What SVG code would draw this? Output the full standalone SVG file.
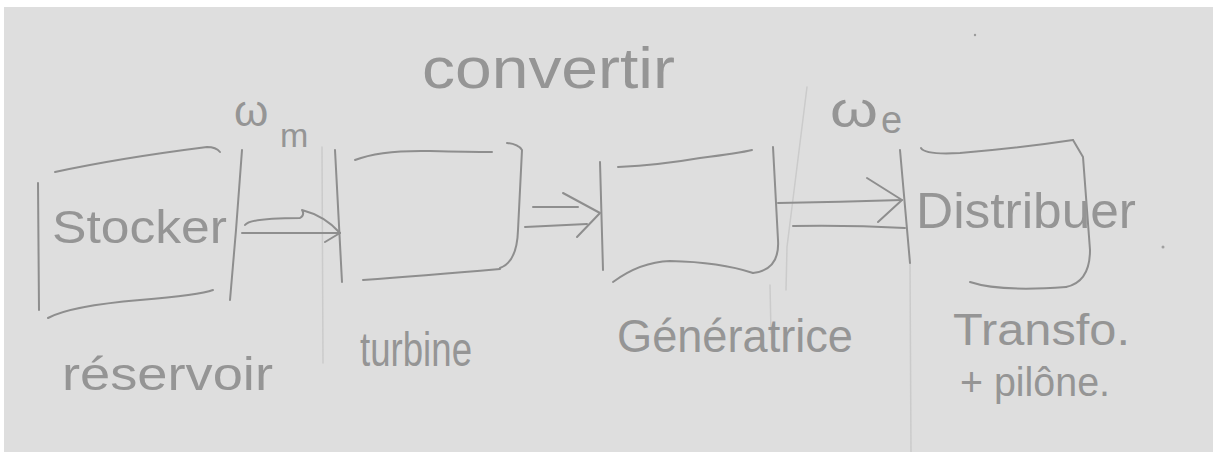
<svg xmlns="http://www.w3.org/2000/svg" width="1213" height="452" viewBox="0 0 1213 452">
<defs>
<style>
.bg{fill:#dedede}
.ln{fill:none;stroke:#8e8e8e;stroke-width:2;stroke-linecap:round;stroke-linejoin:round}
.fa{fill:none;stroke:#cbcbcb;stroke-width:1.5;stroke-linecap:round}
.tx{fill:#959595;font-family:"Liberation Sans","DejaVu Sans",sans-serif}
</style>
</defs>
<rect x="0" y="0" width="1213" height="452" fill="#ffffff"/>
<rect class="bg" x="4" y="7" width="1209" height="445"/>
<g id="faint-lines">
<path class="fa" d="M322 147 L323 363"/>
<path class="fa" d="M807 87 L787 247 L786 290"/>
<path class="fa" d="M910 263 L911 452"/>
<circle cx="975" cy="35" r="1.2" fill="#9a9a9a"/>
<circle cx="1163" cy="247" r="1.5" fill="#a0a0a0"/>
</g>
<g id="title">
<text class="tx" x="422" y="88" font-size="58" textLength="253" lengthAdjust="spacingAndGlyphs">convertir</text>
</g>
<g id="node-stocker">
<path class="ln" d="M38 183 L39 310"/>
<path class="ln" d="M55 172 Q120 158 207 147 Q216 147 220 152"/>
<path class="ln" d="M48 318 Q70 306 140 300 Q200 295 213 290"/>
<path class="ln" d="M242 150 L236 230 L230 300"/>
<text class="tx" x="52" y="243" font-size="46" textLength="175" lengthAdjust="spacingAndGlyphs">Stocker</text>
<text class="tx" x="62" y="390" font-size="46" textLength="211" lengthAdjust="spacingAndGlyphs">réservoir</text>
</g>
<g id="node-turbine">
<path class="ln" d="M335 150 L342 282"/>
<path class="ln" d="M355 160 Q380 150 430 151 Q470 152 492 152"/>
<path class="ln" d="M507 143 Q518 144 522 150 L518 230 Q517 262 500 268"/>
<path class="ln" d="M363 280 Q420 276 500 269"/>
<text class="tx" x="360" y="366" font-size="48" textLength="112" lengthAdjust="spacingAndGlyphs">turbine</text>
</g>
<g id="node-generatrice">
<path class="ln" d="M600 162 L603 270"/>
<path class="ln" d="M618 167 Q660 165 700 158 Q740 153 752 150"/>
<path class="ln" d="M773 147 L778 240 Q780 270 753 273"/>
<path class="ln" d="M613 282 Q640 262 670 261 Q720 262 753 273"/>
<path class="fa" d="M770 285 L771 333"/>
<text class="tx" x="617" y="352" font-size="46" textLength="236" lengthAdjust="spacingAndGlyphs">Génératrice</text>
</g>
<g id="node-distribuer">
<path class="ln" d="M900 150 L910 263"/>
<path class="ln" d="M921 148 Q925 155 960 153 Q1020 148 1073 140"/>
<path class="ln" d="M1073 140 L1083 157 L1090 250 Q1090 282 1066 287"/>
<path class="ln" d="M970 282 Q1000 292 1066 287"/>
<text class="tx" x="916" y="228" font-size="50" textLength="220" lengthAdjust="spacingAndGlyphs">Distribuer</text>
<text class="tx" x="953" y="345" font-size="44" textLength="177" lengthAdjust="spacingAndGlyphs">Transfo.</text>
<text class="tx" x="960" y="396" font-size="40" textLength="150" lengthAdjust="spacingAndGlyphs">+ pilône.</text>
</g>
<g id="connectors">
<path class="ln" d="M245 225 Q250 218 300 218 Q305 215 302 210 Q325 216 340 233 L325 242"/>
<path class="ln" d="M242 233 L340 233"/>
<path class="ln" d="M533 207 L578 207"/>
<path class="ln" d="M563 193 L600 213 L577 237"/>
<path class="ln" d="M525 227 L587 224"/>
<path class="ln" d="M778 203 Q840 202 902 200"/>
<path class="ln" d="M867 178 L902 200 L878 222"/>
<path class="ln" d="M793 226 Q850 225 905 228"/>
</g>
<g id="labels">
<text class="tx" x="234" y="126" font-size="44">ω</text>
<text class="tx" x="280" y="147" font-size="34">m</text>
<text class="tx" x="830" y="127" font-size="50" textLength="48" lengthAdjust="spacingAndGlyphs">ω</text>
<text class="tx" x="881" y="133" font-size="38">e</text>
</g>
</svg>
